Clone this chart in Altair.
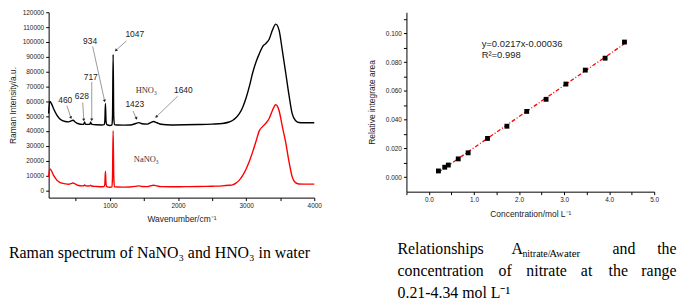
import math
import altair as alt
import pandas as pd

# ---------------- Left panel: Raman spectra ----------------
wavenumber = [100, 115, 134, 173, 221, 270, 343, 392, 440, 460, 489, 537, 600, 615, 628, 641,
              683, 705, 717, 729, 800, 880, 915, 925, 934, 943, 955, 1000, 1030, 1038, 1047,
              1056, 1066, 1100, 1200, 1300, 1380, 1423, 1470, 1550, 1600, 1640, 1690, 1750,
              1900, 2100, 2300, 2500, 2650, 2750, 2800, 2850, 2900, 2950, 3000, 3050, 3097,
              3145, 3193, 3242, 3290, 3338, 3386, 3434, 3483, 3531, 3580, 3628, 3676, 3724,
              3773, 3850, 4000]
hno3_intensity = [51700, 59800, 59000, 54900, 50600, 47800, 46300, 46100, 46900, 47200, 46000,
                  44800, 44400, 44500, 46000, 44500, 44400, 44600, 45800, 44600, 44100, 44000,
                  44200, 46500, 58500, 46500, 44200, 43600, 44000, 50000, 91600, 50000, 44200,
                  44000, 43900, 44000, 45000, 45600, 44800, 44600, 45600, 46300, 45500, 44500,
                  44000, 44100, 44300, 44600, 45000, 46000, 47000, 48800, 51600, 56000, 62300,
                  70500, 79400, 86500, 92000, 96900, 99000, 101800, 108000, 112000, 108000,
                  94300, 79400, 64400, 51600, 47000, 45700, 45500, 45500]
nano3_intensity = [9000, 14300, 13700, 10000, 6800, 5100, 4300, 4000, 4600, 4900, 4200, 3200,
                   2900, 3000, 3600, 2900, 2800, 2900, 3300, 2800, 2500, 2300, 2400, 4000,
                   12800, 4000, 2400, 2000, 2200, 10000, 40100, 10000, 2300, 2200, 2100, 2200,
                   2600, 2900, 2500, 2400, 3000, 3300, 2900, 2400, 2300, 2400, 2500, 2700, 2900,
                   3300, 3600, 4800, 6800, 10000, 14300, 19800, 26000, 33000, 40000, 43000,
                   45200, 48400, 53800, 57600, 53800, 43000, 32400, 19600, 9000, 5100, 4200,
                   4100, 4100]
series_keys = ["HNO3", "NaNO3"]
series_labels = ["HNO₃", "NaNO₃"]
series_label_wn = [1534, 1534]
series_label_int = [67600, 20700]

peak_labels = ["460", "628", "717", "934", "1047", "1423", "1640"]
peak_label_wn = [344, 587, 718, 708, 1364, 1364, 2078]
peak_label_int = [60800, 63800, 76600, 100300, 105400, 58000, 67600]
arrow_wn_start = [368, 601, 733, 747, 1243, 1339, 1995]
arrow_int_start = [57000, 59100, 73000, 96900, 100700, 53400, 63400]
arrow_wn_end = [427, 616, 733, 922, 1087, 1389, 1680]
arrow_int_end = [48900, 47400, 47400, 60200, 94300, 48400, 49500]

# ---------------- Right panel: calibration ----------------
concentration = [0.21, 0.35, 0.43, 0.65, 0.87, 1.30, 1.73, 2.17, 2.60, 3.04, 3.47, 3.91, 4.34]
relative_area = [0.0044, 0.0070, 0.0085, 0.0128, 0.0170, 0.0270, 0.0355, 0.0458, 0.0542,
                 0.0648, 0.0745, 0.0828, 0.0940]
equation_lines = ["y=0.0217x-0.00036", "R²=0.998"]
equation_x = [1.17, 1.17]
equation_y = [0.0926, 0.0850]

left_caption = "Raman spectrum of NaNO₃ and HNO₃ in water"
right_caption_words = ["Relationships", "A", "nitrate/", "Awater", "and", "the",
                       "concentration", "of", "nitrate", "at", "the", "range",
                       "0.21-4.34 mol L⁻¹"]

# ---------------- layout constants ----------------
W1, H1 = 268, 187
W2, H2 = 250, 181
XD1, YD1 = [100, 4000], [-5000, 120000]
XD2, YD2 = [-0.5, 5.0], [-0.01, 0.1147]

one = pd.DataFrame({"k": [0]})

SX1 = alt.Scale(domain=XD1, nice=False, zero=False)
SY1 = alt.Scale(domain=YD1, nice=False, zero=False)
SX2 = alt.Scale(domain=XD2, nice=False, zero=False)
SY2 = alt.Scale(domain=YD2, nice=False, zero=False)

AX1 = alt.Axis(title="Wavenumber/cm⁻¹", values=list(range(500, 4001, 500)),
               labelExpr="datum.value % 1000 == 0 ? format(datum.value, 'd') : ''",
               titlePadding=6)
AY1 = alt.Axis(title="Raman Intensity/a.u.", values=list(range(0, 120001, 10000)),
               format="d", titlePadding=5)
AX2 = alt.Axis(title="Concentration/mol L⁻¹", values=[v / 2 for v in range(-1, 11)],
               labelExpr="round(datum.value * 2) % 2 == 0 ? format(datum.value, '.1f') : ''",
               titlePadding=6.5)
AY2 = alt.Axis(title="Relative integrate area", values=[v / 100 for v in range(0, 12)],
               labelExpr="round(datum.value * 100) % 2 == 0 ? format(datum.value, '.3f') : ''",
               titlePadding=8.5)


def X1(f):
    return alt.X(f, scale=SX1, axis=AX1, title="Wavenumber/cm⁻¹")


def Y1(f):
    return alt.Y(f, scale=SY1, axis=AY1, title="Raman Intensity/a.u.")


def X2(f):
    return alt.X(f, scale=SX2, axis=AX2, title="Concentration/mol L⁻¹")


def Y2(f):
    return alt.Y(f, scale=SY2, axis=AY2, title="Relative integrate area")


n = len(wavenumber)
spec = pd.DataFrame({
    "wn": wavenumber * 2,
    "intensity": hno3_intensity + nano3_intensity,
    "series": [series_keys[0]] * n + [series_keys[1]] * n,
})

lines = alt.Chart(spec).mark_line(strokeWidth=1.4, interpolate="monotone").encode(
    x=X1("wn:Q"), y=Y1("intensity:Q"),
    color=alt.Color("series:N", scale=alt.Scale(domain=series_keys, range=["#000000", "#ff0000"]),
                    legend=None),
    detail="series:N",
)

px_x = W1 / (XD1[1] - XD1[0])
px_y = H1 / (YD1[1] - YD1[0])
angles = []
for a, b, c, d in zip(arrow_wn_start, arrow_int_start, arrow_wn_end, arrow_int_end):
    dx = (c - a) * px_x
    dy = -(d - b) * px_y
    angles.append(math.degrees(math.atan2(dx, -dy)) % 360)

arrows = pd.DataFrame({
    "x0": arrow_wn_start, "y0": arrow_int_start,
    "x1": arrow_wn_end, "y1": arrow_int_end, "angle": angles,
})

rules = alt.Chart(arrows).mark_rule(color="#555555", strokeWidth=0.6).encode(
    x=X1("x0:Q"), y=Y1("y0:Q"), x2="x1:Q", y2="y1:Q",
)
heads = alt.Chart(arrows).mark_point(shape="triangle-up", filled=True, size=10,
                                     color="#222222", opacity=1).encode(
    x=X1("x1:Q"), y=Y1("y1:Q"),
    angle=alt.Angle("angle:Q", scale=None),
)

peaks = pd.DataFrame({"label": peak_labels, "x": peak_label_wn, "y": peak_label_int})
peak_text = alt.Chart(peaks).mark_text(font="Liberation Sans", fontSize=8.5,
                                       color="#222222").encode(
    x=X1("x:Q"), y=Y1("y:Q"), text="label:N",
)

ser = pd.DataFrame({"label": series_labels, "x": series_label_wn, "y": series_label_int})
ser_text = alt.Chart(ser).mark_text(font="Liberation Serif", fontSize=8.5,
                                    color="#333333").encode(
    x=X1("x:Q"), y=Y1("y:Q"), text="label:N",
)

cap_left = alt.Chart(one).mark_text(align="left", baseline="alphabetic",
                                    font="Liberation Serif", fontSize=16,
                                    color="#000000").encode(
    x=alt.value(-40), y=alt.value(248), text=alt.value(left_caption))

left = alt.layer(lines, rules, heads, peak_text, ser_text, cap_left).properties(
    width=W1, height=H1)

# ---------------- right panel ----------------
cal = pd.DataFrame({"conc": concentration, "area": relative_area})

fit = alt.Chart(cal).transform_regression(
    "conc", "area", extent=[concentration[0], concentration[-1]]
).mark_line(color="#ff0000", strokeWidth=1.3, strokeDash=[4, 2, 1, 2]).encode(
    x=X2("conc:Q"), y=Y2("area:Q"),
)

pts = alt.Chart(cal).mark_square(size=24, color="#000000", opacity=1).encode(
    x=X2("conc:Q"), y=Y2("area:Q"),
)

eq = pd.DataFrame({"t": equation_lines, "x": equation_x, "y": equation_y})
eq_text = alt.Chart(eq).mark_text(align="left", font="Liberation Sans", fontSize=9.5,
                                  color="#222222").encode(
    x=X2("x:Q"), y=Y2("y:Q"), text="t:N",
)

# caption words: (word index, page x, baseline y, font size)
ox, oy = 409, 12
word_layout = [
    (0, 400, 256, 16), (1, 515, 256, 16), (2, 526, 259, 10), (3, 553, 259, 11),
    (4, 617, 256, 16), (5, 662, 256, 16),
    (6, 400, 278, 16), (7, 502, 278, 16), (8, 530, 278, 16), (9, 585, 278, 16),
    (10, 613, 278, 16), (11, 646, 278, 16),
    (12, 400, 300, 16),
]
cap_right = []
for idx, px, py, fs in word_layout:
    cap_right.append(
        alt.Chart(one).mark_text(align="left", baseline="alphabetic",
                                 font="Liberation Serif", fontSize=fs,
                                 color="#000000").encode(
            x=alt.value(px - ox), y=alt.value(py - oy),
            text=alt.value(right_caption_words[idx]))
    )

right = alt.layer(fit, pts, eq_text, *cap_right).properties(width=W2, height=H2)

chart = alt.hconcat(left, right, spacing=93, bounds="flush").properties(
    padding=0
).configure_view(stroke=None).configure_axis(
    grid=False, domainColor="#000000", tickColor="#000000", labelColor="#222222",
    titleColor="#222222", labelFont="Liberation Sans", titleFont="Liberation Sans",
    labelFontSize=6.5, titleFontSize=8.5, titleFontWeight="normal", tickSize=3,
    labelPadding=2, labelFlush=False, labelOverlap=False, domainWidth=1, tickWidth=1,
)

chart.save("out.html", embed_options={"renderer": "svg", "actions": False})
